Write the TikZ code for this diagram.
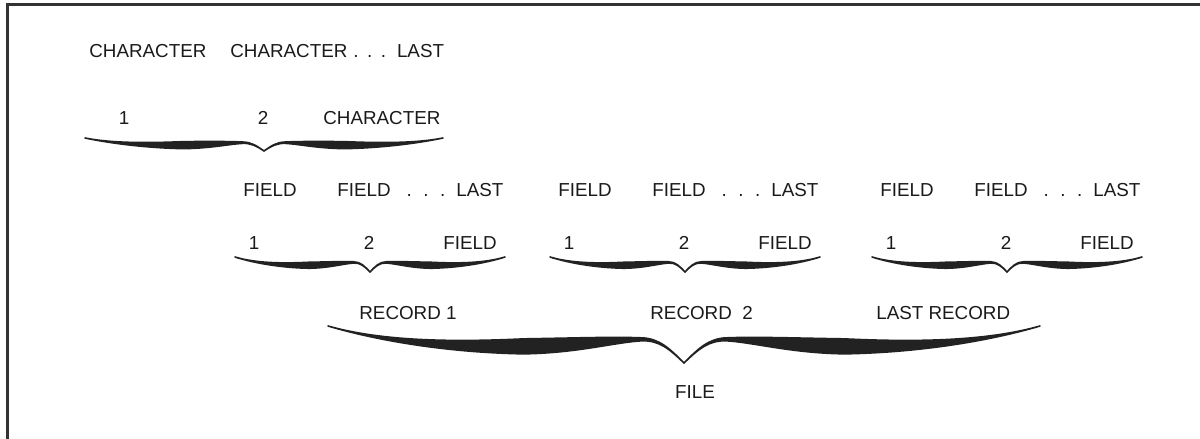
\documentclass[tikz,border=0pt]{standalone}
\usepackage{fontspec}
\newfontfamily\arialf{Liberation Sans}
\definecolor{txtcol}{HTML}{1A1A1A}
\definecolor{bracecol}{HTML}{222222}
\definecolor{framecol}{HTML}{333333}
\newcommand\bracehalf[2]{%
\fill[bracecol, draw=bracecol, line width=0.8pt, line join=round]
(0,0) .. controls (0.15,{0.42*#1-0.02*#2}) and (0.35,{0.58*#1-0.35*#2}) .. (0.55,{0.55*#1-0.5*#2})
.. controls (0.70,{0.5275*#1-0.5*#2}) and (0.80,{0.37*#1-0.2*#2}) .. (0.88,{0.36*#1-0.1*#2})
.. controls (0.93,{0.354*#1-0.06*#2}) and (0.96,{0.62*#1-0.02*#2}) .. (1,#1)
.. controls (0.96,{0.62*#1+0.02*#2}) and (0.93,{0.354*#1+0.06*#2}) .. (0.88,{0.36*#1+0.1*#2})
.. controls (0.80,{0.37*#1+0.2*#2}) and (0.70,{0.5275*#1+0.5*#2}) .. (0.55,{0.55*#1+0.5*#2})
.. controls (0.35,{0.58*#1+0.35*#2}) and (0.15,{0.42*#1+0.02*#2}) .. (0,0) -- cycle;}
\newcommand\dbrace[5]{%
\pgfmathsetmacro\brW{((#2)-(#1))/2}%
\begin{scope}[shift={(#1,#3)}, xscale=\brW]\bracehalf{#4}{#5}\end{scope}%
\begin{scope}[shift={(#2,#3)}, xscale=-\brW]\bracehalf{#4}{#5}\end{scope}}
\tikzset{
  lbl/.style={font={\arialf\fontsize{9.4}{11}\selectfont}, inner sep=0pt, anchor=west, text=txtcol},
  lblc/.style={lbl, anchor=center}
}
\begin{document}
\begin{tikzpicture}[x=0.5pt, y=-0.5pt]
\useasboundingbox (0,0) rectangle (1200,439);
\fill[white] (0,0) rectangle (1200,439);
\draw[framecol, line width=1.5pt] (7,439) -- (7,4) -- (1200,4);
% characters -> field
\node[lbl] (c1) at (89,51) {CHARACTER};
\node[lbl] (c2) at (230,51) {CHARACTER\hspace{3pt}.\hspace{4.25pt}.\hspace{4.25pt}.\hspace{5.5pt}LAST};
\node[lblc] (n1) at (124,118) {1};
\node[lblc] (n2) at (263,118) {2};
\node[lbl] (c3) at (323,118) {CHARACTER};
\dbrace{85}{443}{138}{13}{7}
% fields -> records
\foreach \g/\k in {0/a,315/b,637/c} {
  \node[lbl] (f1\k) at (243+\g,190) {FIELD};
  \node[lbl] (f2\k) at (337+\g,190) {FIELD\hspace{8pt}.\hspace{5.75pt}.\hspace{5.75pt}.\hspace{5.5pt}LAST};
  \node[lblc] (m1\k) at (254+\g,243) {1};
  \node[lblc] (m2\k) at (369+\g,243) {2};
  \node[lbl] (f3\k) at (443+\g,243) {FIELD};
  \dbrace{235+\g}{505+\g}{257}{15}{6}
}
% records -> file
\node[lbl] (r1) at (359,313) {RECORD 1};
\node[lbl] (r2) at (650,313) {RECORD\ \ 2};
\node[lbl] (r3) at (876,313) {LAST RECORD};
\dbrace{328}{1040}{326}{37}{15}
\node[lblc] (fl) at (695,392) {FILE};
\end{tikzpicture}
\end{document}
